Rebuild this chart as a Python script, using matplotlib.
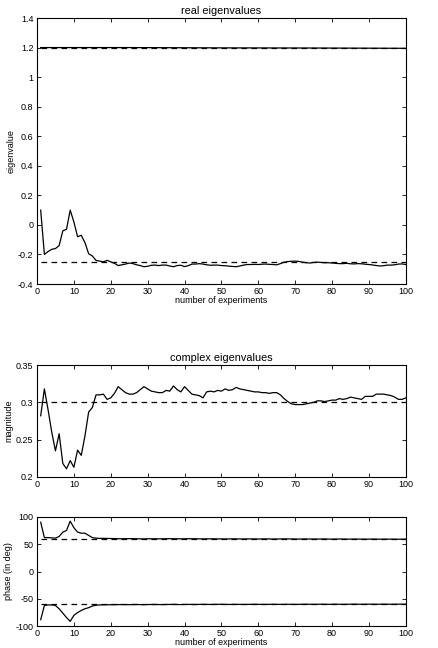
import numpy as np
import matplotlib.pyplot as plt
from matplotlib.ticker import FormatStrFormatter

plt.rcParams['font.family'] = ['Liberation Sans', 'DejaVu Sans']
plt.rcParams['font.size'] = 6.5

# experiment index
experiments = np.arange(1, 101)

# real eigenvalues: the large one (sampled) and the small one (every experiment)
real_top_x = [1, 25, 50, 75, 100]
real_top = [1.200, 1.200, 1.198, 1.197, 1.195]
real_top_true = 1.2

real_low = [0.10, -0.20, -0.18, -0.165, -0.16, -0.14, -0.04, -0.03, 0.10, 0.02,
            -0.08, -0.07, -0.12, -0.195, -0.21, -0.24, -0.245, -0.25, -0.24, -0.25,
            -0.26, -0.275, -0.27, -0.265, -0.258, -0.262, -0.27, -0.275, -0.283, -0.28,
            -0.273, -0.272, -0.275, -0.272, -0.272, -0.278, -0.283, -0.275, -0.273, -0.282,
            -0.276, -0.265, -0.265, -0.262, -0.265, -0.27, -0.273, -0.272, -0.272, -0.275,
            -0.276, -0.279, -0.281, -0.283, -0.278, -0.272, -0.268, -0.268, -0.267, -0.268,
            -0.266, -0.265, -0.267, -0.268, -0.27, -0.262, -0.252, -0.248, -0.246, -0.245,
            -0.247, -0.252, -0.256, -0.258, -0.254, -0.252, -0.254, -0.256, -0.256, -0.258,
            -0.26, -0.262, -0.262, -0.26, -0.263, -0.264, -0.262, -0.263, -0.266, -0.268,
            -0.271, -0.275, -0.278, -0.276, -0.272, -0.272, -0.27, -0.265, -0.264, -0.268]
real_low_true = -0.25

# complex eigenvalues: magnitude
magnitude = [0.282, 0.318, 0.29, 0.26, 0.235, 0.258, 0.218, 0.211, 0.222, 0.213,
             0.236, 0.229, 0.255, 0.287, 0.293, 0.31, 0.31, 0.311, 0.304, 0.306,
             0.312, 0.321, 0.317, 0.313, 0.311, 0.311, 0.313, 0.317, 0.321, 0.318,
             0.315, 0.314, 0.313, 0.313, 0.316, 0.315, 0.322, 0.317, 0.314, 0.321,
             0.316, 0.311, 0.31, 0.309, 0.306, 0.314, 0.315, 0.314, 0.316, 0.315,
             0.318, 0.316, 0.317, 0.32, 0.318, 0.317, 0.316, 0.315, 0.314, 0.314,
             0.313, 0.313, 0.312, 0.313, 0.313, 0.31, 0.305, 0.301, 0.298, 0.297,
             0.297, 0.297, 0.298, 0.299, 0.3, 0.302, 0.302, 0.301, 0.302, 0.303,
             0.303, 0.305, 0.304, 0.305, 0.307, 0.306, 0.305, 0.304, 0.308, 0.308,
             0.308, 0.311, 0.311, 0.311, 0.31, 0.309, 0.307, 0.304, 0.304, 0.306]
magnitude_true = 0.3

# complex eigenvalues: phase (deg), conjugate pair
phase_pos = [90, 62, 62, 61.5, 61, 64, 72, 75, 92, 80,
             72, 70, 70, 66, 62, 61, 60.5, 60.6, 60.4, 60.3,
             60.2, 60.0, 59.8, 60.0, 60.1, 60.0, 59.9, 59.7, 59.6, 59.8,
             59.9, 59.8, 59.7, 59.8, 59.9, 60.0, 59.9, 59.8, 59.7, 59.8,
             59.9, 59.9, 59.8, 59.7, 59.6, 59.7, 59.8, 59.7, 59.6, 59.6,
             59.5, 59.6, 59.7, 59.6, 59.5, 59.5, 59.6, 59.6, 59.5, 59.4,
             59.5, 59.6, 59.5, 59.4, 59.4, 59.5, 59.6, 59.6, 59.5, 59.4,
             59.3, 59.4, 59.5, 59.4, 59.3, 59.3, 59.4, 59.4, 59.3, 59.2,
             59.3, 59.4, 59.3, 59.2, 59.2, 59.3, 59.3, 59.2, 59.1, 59.2,
             59.3, 59.2, 59.1, 59.1, 59.2, 59.2, 59.1, 59.0, 59.1, 59.1]
phase_neg = [-88, -62, -61, -61, -62, -68, -76, -84, -91, -80,
             -75, -71, -68, -66, -63, -61.5, -61, -60.8, -60.7, -60.6,
             -60.5, -60.4, -60.3, -60.4, -60.5, -60.3, -60.2, -60.4, -60.5, -60.3,
             -60.2, -60.1, -60.3, -60.4, -60.2, -60.1, -60.0, -60.2, -60.3, -60.1,
             -60.0, -60.1, -60.2, -60.0, -59.9, -60.0, -60.1, -60.0, -59.9, -59.8,
             -60.0, -60.1, -60.0, -59.9, -60.0, -60.1, -60.0, -59.9, -59.8, -59.9,
             -60.0, -60.0, -59.9, -59.8, -59.9, -60.0, -59.9, -59.8, -59.9, -60.0,
             -59.9, -59.8, -59.7, -59.8, -59.9, -59.8, -59.7, -59.8, -59.9, -59.8,
             -59.7, -59.8, -59.9, -59.8, -59.7, -59.6, -59.7, -59.8, -59.7, -59.6,
             -59.7, -59.8, -59.7, -59.6, -59.7, -59.8, -59.7, -59.6, -59.7, -59.7]
phase_true = 60

x_ticks = list(range(0, 101, 10))
real_ticks = [-0.4, -0.2, 0, 0.2, 0.4, 0.6, 0.8, 1, 1.2, 1.4]
mag_ticks = [0.2, 0.25, 0.3, 0.35]
phase_ticks = [-100, -50, 0, 50, 100]

DASH = (0, (4.5, 3.5))
LW = 0.9


def style_axes(ax):
    ax.tick_params(direction='in', top=True, right=True, length=3, width=0.6, pad=2.5)
    for s in ax.spines.values():
        s.set_linewidth(0.8)
    ax.set_xlim(0, 100)
    ax.set_xticks(x_ticks)
    ax.yaxis.set_major_formatter(FormatStrFormatter('%g'))


fig = plt.figure(figsize=(4.38, 6.48), dpi=100)
left, width = 0.0845, 0.842

# top panel: real eigenvalues
ax1 = fig.add_axes([left, 0.5617, width, 0.4105])
ax1.plot(real_top_x, [real_top_true] * len(real_top_x), color='k', lw=LW, ls=DASH)
ax1.plot(real_top_x, real_top, color='k', lw=LW)
ax1.plot(experiments, [real_low_true] * len(experiments), color='k', lw=LW, ls=DASH)
ax1.plot(experiments, real_low, color='k', lw=LW)
style_axes(ax1)
ax1.set_ylim(-0.4, 1.4)
ax1.set_yticks(real_ticks)
ax1.set_title('real eigenvalues', pad=3)
ax1.set_ylabel('eigenvalue', labelpad=2)
ax1.set_xlabel('number of experiments', labelpad=0)

# middle panel: magnitude
ax2 = fig.add_axes([left, 0.2639, width, 0.1728])
ax2.plot(experiments, [magnitude_true] * len(experiments), color='k', lw=LW, ls=DASH)
ax2.plot(experiments, magnitude, color='k', lw=LW)
style_axes(ax2)
ax2.set_ylim(0.2, 0.35)
ax2.set_yticks(mag_ticks)
ax2.set_title('complex eigenvalues', pad=3)
ax2.set_ylabel('magnitude', labelpad=2)

# bottom panel: phase
ax3 = fig.add_axes([left, 0.0335, width, 0.1690])
ax3.plot(experiments, [phase_true] * len(experiments), color='k', lw=LW, ls=DASH)
ax3.plot(experiments, [-phase_true] * len(experiments), color='k', lw=LW, ls=DASH)
ax3.plot(experiments, phase_pos, color='k', lw=LW)
ax3.plot(experiments, phase_neg, color='k', lw=LW)
style_axes(ax3)
ax3.tick_params(axis='x', pad=2)
ax3.set_ylim(-100, 100)
ax3.set_yticks(phase_ticks)
ax3.set_ylabel('phase (in deg)', labelpad=2)
ax3.set_xlabel('number of experiments', labelpad=0)

fig.savefig('out.png', dpi=100)
